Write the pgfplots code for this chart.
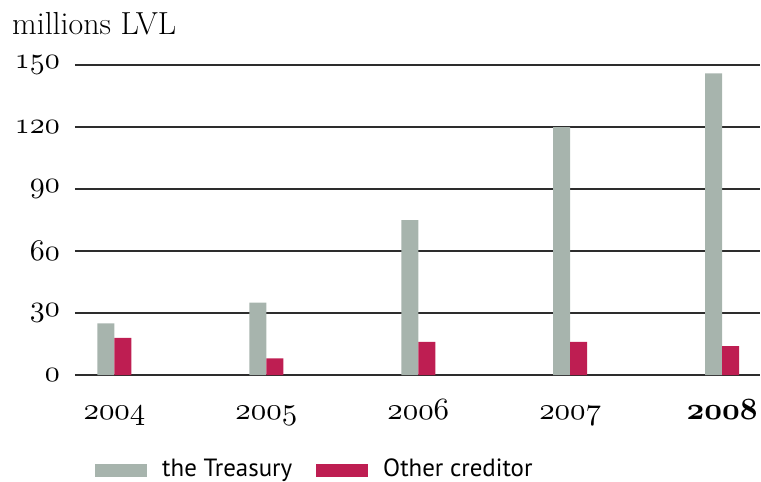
\documentclass[border=0pt]{standalone}
\usepackage{fontspec}
\usepackage{pgfplots}
\pgfplotsset{compat=1.18}
\newfontfamily\legfont{PT Sans}
\DeclareFontShape{OML}{cmm}{m}{it}{<->cmmi10}{}
\DeclareFontShape{OML}{cmm}{b}{it}{<->cmmib10}{}
\newcommand{\osn}[1]{{\usefont{OML}{cmm}{m}{it}#1}}
\newcommand{\osnb}[1]{{\usefont{OML}{cmm}{b}{it}#1}}
\definecolor{treas}{RGB}{167,180,173}
\definecolor{other}{RGB}{190,30,82}
\definecolor{gridc}{RGB}{45,45,45}
\begin{document}
\begin{tikzpicture}
\path[use as bounding box] (-75bp,-107bp) rectangle (686bp,375bp);
\begin{axis}[
  at={(0,0)}, anchor=south west,
  scale only axis, width=685bp, height=310bp,
  xmin=-0.26, xmax=4.25, ymin=0, ymax=150,
  clip=false,
  ybar=0pt, bar width=17bp,
  axis line style={draw=none},
  major tick style={draw=none},
  xtick={0,1,2,3,4},
  xticklabels={\osn{2004},\osn{2005},\osn{2006},\osn{2007},\osnb{2008}},
  xticklabel style={anchor=base, inner sep=0pt, yshift=-40bp, font=\fontsize{31}{33}\selectfont},
  ytick={30,60,90,120,150},
  yticklabels={\osn{30},\osn{60},\osn{90},\osn{120},\osn{150}},
  yticklabel style={anchor=east, inner sep=0pt, xshift=-15bp, font=\fontsize{30}{32}\selectfont},
  ymajorgrids=true,
  major grid style={line width=1.2bp, draw=gridc},
  extra y ticks={0},
  extra y tick labels={\osn{0}},
  extra y tick style={ymajorgrids=true, grid style={line width=2.4bp, draw=gridc}},
  legend columns=2,
  legend style={at={(axis description cs:0.0292,-0.3016)}, anchor=west, draw=none, fill=none, inner sep=0pt,
    font=\legfont\fontsize{25}{27}\selectfont,
    /tikz/every odd column/.append style={column sep=13bp},
    /tikz/every even column/.append style={column sep=22bp}},
  legend image code/.code={\fill[#1] (0bp,-8.5bp) rectangle (52bp,4.5bp);},
]
\addplot[fill=treas, draw=none] coordinates {(0,25) (1,35) (2,75) (3,120) (4,146)};
\addplot[fill=other, draw=none] coordinates {(0,18) (1,8) (2,16) (3,16) (4,14)};
\legend{the Treasury, Other creditor}
\end{axis}
\node[anchor=base west, inner sep=0pt, font=\fontsize{32}{34}\selectfont] at (-63bp,340bp) {millions LVL};
\end{tikzpicture}
\end{document}
